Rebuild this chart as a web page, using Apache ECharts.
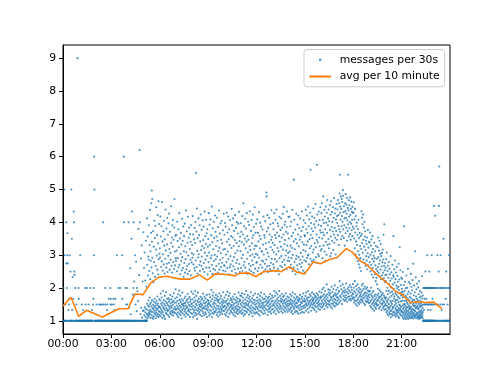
<!DOCTYPE html>
<html>
<head>
<meta charset="utf-8">
<script src="https://cdn.jsdelivr.net/npm/echarts@6/dist/echarts.min.js"></script>
<style>html,body{margin:0;padding:0;background:#fff}#c{width:500px;height:375px}</style>
</head>
<body>
<div id="c"></div>
<script>
// messages per 30s, grouped by hour of day (readings evenly spaced inside each hour)
const h00 = [1.5,1,2,1,1,5,3,1,1,1.5,1,1,4,2.75,1,2,3,3.67,2.75,1,1.33,1,1.67,1.5,1,3,1,1,2.5,1,1,5,1,3.5,1.33,1,2.33,1,1.67,1,4.33,4,2.5,2.4,1,1,2,1,1,1,1.5,1,1,1,9,1,1,1,2,1.67];
const h01 = [1,1,1,1,3,1,1,1,1,1,1.5,1,1,1,1,1.33,1,1,1,1,1,1,1,2,1.5,1,1,1,1,2,1,1,1,1,1,1.5,1,1,1,1,1,2,1,1,1,1,1,1,1.33,1,1,1,1.5,1.67,2,3,6,5,1,1];
const h02 = [1,1,1,1,1,1.5,1,1,1,1,1,1,1,1,1,1.5,1,1,1,1.5,1,1,1,1,1,1.5,1,1,1,4,1,1.5,1,1,1,1,1,2,1.5,1,1,1,1,1,1.33,1.5,1,1,1,1,1.67,1,1,1,1,1,2,1.5,1.67,1];
const h03 = [1,1,1.5,1,1,1,1,1,1.67,1.5,1,1,1.33,1,1,1.67,1,1,1,1,1,3,1,1,1,1,1,2,1,1,1,1,1,2,1,1,1,1,1,1,3,1.67,1,1,1,1,6,4,1,1,1,1,2,1,1,1,1.5,1,1.5,2];
const h04 = [1,1,1,1,4,1,1.4,1,1,1,2.6,1,1.2,1,1,3.5,1,4.33,1,1,1.8,1,2,4,1,2.2,1,1,3,1,1.5,1,2.8,1,1.3,2,1,1.9,1,1.6,1,3.8,1,2.4,1,6.2,4,1,1.2,1,2.9,1.4,1,3.3,1.1,1,2.2,1.3,1,3.7];
const h05 = [1,1.32,1,2.61,1,1.17,1,3.08,1,1.41,1,2.23,1,1.26,1,1.12,1,3.44,1,1.36,1,2.04,1,1.21,1,4.12,
1.52,2.71,1.07,1.33,3.57,1.19,2.38,1.47,1.13,2.96,1.62,2.87,1.24,3.91,1.43,1.16,2.52,1.29,3.31,1.71,1.22,4.38,1.51,2.27,1.34,3.12,1.09,2.83,1.56,3.68,1.28,4.58,1.44,2.63,1.18,4.97,3.41,1.63,4.71,2.92,
1.11,1.38,2.45,1.27,3.73,1.49,1.06,2.18,1.35,3.26,1.58,1.14,2.79,1.42,4.05,1.23,1.67,3.52,1.31,2.34,1.46,3.89,1.19,1.54,2.67,1.08,3.17,1.39,4.46,1.25,1.61,2.99,1.33,1.15,3.61,1.48,2.56,1.74,4.22,1.37,
1.21,3.36,1.53,2.41,1.12,4.64,1.44,2.88,1.29,3.95,1.66,1.18,3.04,1.41];
const h06 = [1.43,3.21,1.27,2.93,1.62,4.18,1.14,1.83,3.57,1.36,2.64,1.52,1.22,3.88,1.71,2.81,1.31,4.62,1.47,1.09,
3.42,1.56,2.53,1.26,3.03,1.91,1.41,3.73,1.18,2.72,1.63,4.04,1.37,1.13,3.29,1.51,2.44,1.76,3.48,1.32,
1.06,2.89,1.46,4.39,1.59,3.14,1.24,1.87,2.62,1.39,3.81,1.21,2.74,1.54,3.33,1.34,4.13,1.67,2.49,1.29,
1.48,3.62,1.17,2.98,1.69,3.97,1.33,1.58,2.77,1.44,4.27,1.12,3.19,1.64,2.56,1.38,3.71,1.23,1.79,3.07,
1.53,2.86,1.28,4.49,1.45,3.38,1.19,1.66,2.68,1.41,3.54,1.57,2.47,1.31,3.91,1.74,1.25,3.26,1.49,4.07,
1.16,2.79,1.61,3.47,1.35,1.84,2.58,1.27,3.84,1.55,4.71,1.42,3.11,1.24,2.69,1.68,3.59,1.37,1.96,2.91];
const h07 = [1.34,2.83,1.56,3.62,1.21,1.47,3.14,1.72,2.51,1.37,4.02,1.16,1.61,3.43,1.26,2.91,1.81,1.42,3.79,1.11,
2.63,1.52,3.24,1.36,1.92,4.28,1.22,2.71,1.63,1.46,3.51,1.31,2.42,1.77,3.04,1.17,1.57,3.68,1.41,2.82,
1.27,3.32,1.66,1.07,2.54,1.51,4.11,1.33,2.94,1.86,1.23,3.44,1.48,2.61,1.62,3.87,1.38,2.34,1.53,3.12,
1.44,3.58,1.19,2.76,1.69,1.29,3.96,1.54,2.47,1.35,3.27,1.74,1.13,2.88,1.47,4.36,1.25,3.09,1.59,2.57,
1.39,3.73,1.64,1.21,2.67,1.43,3.38,1.82,2.43,1.31,4.17,1.55,2.99,1.18,1.68,3.53,1.36,2.73,1.49,3.84,
1.28,2.52,1.73,3.19,1.45,1.12,3.64,1.58,2.86,1.34,3.41,1.65,2.39,1.24,3.92,1.51,1.89,2.78,1.42,3.06];
const h08 = [1.52,3.31,1.21,2.92,1.66,4.19,1.36,1.11,3.63,1.82,2.72,1.46,3.02,1.26,1.57,3.48,1.32,2.61,1.71,3.83,
1.16,2.53,1.41,3.37,1.91,1.62,4.01,1.24,2.84,1.51,5.5,1.34,1.76,3.72,1.19,2.64,1.47,4.42,1.06,3.13,
1.61,2.44,1.31,3.52,1.86,1.39,2.93,1.56,4.12,1.22,3.03,1.67,1.35,3.61,1.49,2.71,1.27,3.91,1.44,2.52,
1.58,3.42,1.18,2.81,1.73,4.24,1.33,1.52,3.16,1.42,2.67,1.64,3.77,1.14,2.96,1.48,3.28,1.69,1.29,4.06,
1.37,2.58,1.83,3.46,1.23,1.55,3.87,1.41,2.76,1.62,3.22,1.17,2.49,1.74,4.33,1.38,3.07,1.53,1.26,3.58,
1.45,2.87,1.68,3.34,1.21,4.08,1.57,2.62,1.36,3.67,1.79,1.12,2.98,1.47,3.79,1.32,2.41,1.63,3.26,1.51];
const h09 = [1.41,3.49,1.61,2.79,1.26,4.28,1.54,3.08,1.16,2.62,1.81,3.93,1.34,1.49,3.31,1.72,2.51,1.21,4.09,1.46,
2.91,1.59,3.61,1.31,1.94,2.99,1.42,4.48,1.11,2.71,1.66,3.39,1.24,2.43,1.77,3.82,1.51,1.36,3.18,1.86,
2.58,1.22,4.02,1.56,2.82,1.44,3.52,1.29,1.71,3.01,1.62,4.21,1.27,2.54,1.52,3.71,1.39,2.88,1.79,3.28,
1.33,2.67,1.68,3.57,1.18,4.14,1.47,2.96,1.63,1.25,3.44,1.74,2.47,1.38,3.86,1.57,1.13,3.12,1.45,2.74,
1.64,4.36,1.28,3.23,1.83,2.56,1.35,3.66,1.53,1.19,2.86,1.69,3.97,1.43,3.06,1.26,2.64,1.76,3.47,1.37,
1.58,4.04,1.32,2.77,1.48,3.36,1.21,1.65,2.92,1.54,3.76,1.41,2.53,1.87,3.17,1.3,4.26,1.6,2.69,1.44];
const h10 = [1.31,3.62,1.71,2.68,1.46,3.98,1.21,3.19,1.56,2.51,1.36,3.87,1.79,1.16,3.02,1.61,2.79,1.41,4.29,1.26,
3.41,1.51,2.61,1.89,3.69,1.32,1.66,3.11,1.47,4.18,1.12,2.88,1.54,3.49,1.76,2.42,1.37,3.79,1.52,1.22,
3.31,1.84,2.63,1.42,4.07,1.62,2.97,1.31,2.72,1.69,3.58,1.27,1.49,3.22,1.44,4.41,1.64,2.52,1.36,3.91,
1.57,2.83,1.23,3.54,1.74,1.39,4.12,1.48,2.66,1.18,3.28,1.67,2.94,1.33,3.74,1.53,1.27,2.57,1.81,3.46,
1.42,4.22,1.14,3.06,1.63,2.46,1.38,3.83,1.55,1.24,2.76,1.72,3.37,1.46,4.01,1.29,2.86,1.59,3.14,1.35,
1.68,3.66,1.21,2.59,1.51,3.96,1.43,1.86,3.27,1.34,4.32,1.58,2.73,1.26,3.43,1.65,2.49,1.4,3.56,1.77];
const h11 = [1.61,3.12,1.29,3.98,1.51,2.61,1.76,3.71,1.22,2.91,1.46,3.39,1.84,1.34,4.19,1.56,2.52,1.24,3.63,1.71,
3.01,1.41,4.58,1.62,2.69,1.16,3.32,1.52,3.88,1.31,1.81,2.79,1.44,3.51,1.21,4.11,1.66,2.62,1.39,3.21,
1.54,3.81,1.29,1.91,2.48,1.49,3.42,1.72,4.28,1.26,2.89,1.61,3.58,1.36,2.43,1.79,3.08,1.46,4.02,1.51,
1.33,3.47,1.68,2.74,1.19,3.92,1.57,2.56,1.42,3.27,1.74,4.34,1.28,2.98,1.63,3.16,1.38,2.67,1.87,3.74,
1.47,2.51,1.23,4.07,1.58,3.36,1.32,2.84,1.69,3.53,1.14,3.02,1.53,4.24,1.41,2.71,1.77,3.61,1.27,2.46,
1.64,3.86,1.37,3.19,1.56,2.94,1.22,4.46,1.49,3.29,1.83,2.59,1.35,3.68,1.62,3.04,1.43,3.96,1.25,2.77];
const h12 = [1.52,3.28,1.26,2.79,1.71,4.09,1.41,3.01,1.61,2.52,1.36,3.68,1.81,1.21,3.42,1.56,2.61,1.46,4.31,1.31,
2.92,1.66,3.59,1.51,1.16,3.21,1.76,3.99,1.41,2.71,1.61,3.49,1.31,2.43,1.86,3.87,1.46,3.12,1.56,2.84,
1.26,3.11,1.71,2.62,1.41,3.78,1.51,1.36,3.32,1.66,2.81,1.21,4.18,1.56,3.02,1.46,2.51,1.81,3.61,1.31,
1.42,3.54,1.67,2.74,1.23,4.03,1.58,2.57,1.37,3.36,1.74,3.18,1.48,2.87,4.91,4.79,1.62,3.72,1.33,2.66,
1.54,4.22,1.18,3.07,1.69,2.49,1.44,3.83,1.57,1.27,2.96,1.73,3.39,1.35,4.14,1.63,2.68,1.49,3.63,1.39,
1.82,2.58,1.28,3.94,1.53,3.24,1.43,2.77,1.68,3.47,1.22,4.37,1.59,2.89,1.34,3.56,1.77,2.53,1.47,3.16];
const h13 = [1.61,3.38,1.36,3.98,1.71,2.72,1.51,3.79,1.26,3.09,1.46,2.62,1.91,4.28,1.56,3.31,1.31,2.88,1.76,3.61,
1.41,4.08,1.61,2.51,1.21,3.52,1.86,3.02,1.51,4.39,1.36,2.81,1.66,3.69,1.46,1.81,3.22,1.56,3.97,1.31,
2.58,1.71,3.89,1.41,3.12,1.61,2.42,1.26,3.58,1.91,4.17,1.51,2.91,1.36,3.41,1.76,2.68,1.46,3.77,1.61,
1.43,3.26,1.68,4.12,1.29,2.97,1.57,3.54,1.82,2.64,1.38,3.84,1.64,2.79,1.24,4.26,1.53,3.17,1.73,2.54,
1.47,3.63,1.34,4.47,1.59,2.86,1.77,3.34,1.42,3.93,1.63,2.71,1.28,3.46,1.54,4.02,1.39,2.99,1.84,3.71,
1.49,3.14,1.67,2.57,1.33,3.86,1.58,4.33,1.44,3.29,1.74,2.83,1.27,3.66,1.52,3.07,1.62,4.16,1.37,2.93];
const h14 = [1.46,3.51,1.71,2.82,1.31,4.18,1.61,3.11,1.51,2.61,1.81,3.88,1.36,1.56,3.29,1.66,2.71,1.41,4.02,1.26,
2.91,1.76,3.58,1.51,1.31,3.22,1.61,4.38,1.46,2.51,1.86,3.01,1.21,3.68,1.56,2.62,1.41,3.42,5.3,1.71,
1.36,4.08,1.61,2.79,1.51,3.18,1.26,1.81,3.78,1.46,2.42,1.66,3.49,1.31,2.88,1.56,4.27,1.41,2.98,1.71,
1.53,3.36,1.28,2.69,1.74,3.93,1.44,2.57,1.63,3.63,1.22,4.21,1.58,2.94,1.38,3.27,1.69,2.49,1.47,3.82,
1.64,2.73,1.33,3.47,1.79,4.12,1.49,2.86,1.24,3.56,1.57,3.07,1.42,2.64,1.68,3.74,1.35,4.34,1.54,2.77,
1.73,3.39,1.27,2.96,1.62,3.86,1.45,2.53,1.83,3.16,1.39,4.06,1.59,3.32,1.25,2.84,1.67,3.61,1.48,2.47];
const h15 = [1.61,3.58,1.41,3.98,1.76,3.12,1.56,4.38,1.31,2.81,1.86,3.79,1.51,3.31,1.66,4.21,1.46,2.92,1.71,3.68,
1.36,3.42,1.61,2.99,1.91,4.48,1.51,3.02,1.26,3.88,1.71,2.72,1.56,4.09,1.41,3.49,1.81,3.21,1.61,4.29,
1.46,2.89,5.6,1.76,3.62,1.51,3.98,1.31,3.28,1.66,3.81,1.56,2.82,1.86,4.18,1.41,3.52,1.71,3.08,1.61,
1.49,3.73,1.64,4.42,1.38,3.17,1.82,2.86,1.54,3.94,1.69,4.13,1.33,3.36,1.77,2.78,1.47,3.84,1.58,4.56,
1.42,3.24,1.73,2.94,1.63,4.04,1.28,3.63,1.84,3.46,5.75,1.53,2.76,1.67,4.24,1.44,3.39,1.79,3.03,1.57,
1.37,3.92,1.72,4.33,1.48,2.97,1.62,3.54,1.89,4.07,1.52,3.27,1.34,3.76,1.68,4.46,1.43,3.14,1.74,3.69];
const h16 = [1.71,3.89,1.51,4.28,1.86,3.19,1.61,4.58,1.41,3.51,1.96,2.91,1.56,4.08,1.76,3.69,1.46,4.79,1.66,3.29,
2.01,3.98,1.51,3.61,1.81,4.38,1.36,3.11,1.71,4.18,1.61,3.79,1.91,2.82,1.56,4.48,1.46,3.41,1.76,3.99,
1.66,3.01,2.11,4.29,1.51,3.68,1.81,4.68,1.41,3.31,1.71,3.91,1.61,4.12,1.96,3.49,1.51,4.39,1.86,3.21,
1.58,4.03,1.78,3.34,1.48,4.52,1.93,3.77,1.63,2.97,1.83,4.23,1.43,3.57,1.73,4.64,1.53,3.06,2.04,3.86,
1.68,4.31,1.38,3.44,1.88,4.01,1.62,3.72,1.52,4.46,1.74,3.16,1.97,4.14,1.47,3.63,1.79,4.74,1.57,3.38,
1.67,3.83,2.08,4.27,1.44,3.53,1.84,4.42,1.64,3.02,1.77,4.09,1.54,3.74,1.94,4.56,1.49,3.47,1.72,4.19];
const h17 = [1.81,3.98,1.61,4.39,2.01,3.61,1.71,4.68,1.51,3.89,1.86,4.22,1.66,3.31,4.58,1.91,3.79,1.56,4.88,2.21,
5.45,4.29,1.76,3.71,4.48,1.61,4.08,2.06,4.79,3.49,1.71,4.41,1.96,3.88,4.71,1.81,4.19,1.51,4.62,3.58,
1.86,4.02,2.11,4.98,1.66,4.81,3.79,1.91,4.31,1.76,3.52,4.49,2.01,3.91,1.61,4.12,3.29,1.86,4.58,1.71,
1.93,4.34,1.63,3.67,4.86,1.78,4.14,2.14,3.84,4.54,1.68,4.26,1.88,3.44,4.74,1.58,4.06,1.98,3.74,4.44,
1.73,3.94,5.45,1.83,4.37,2.03,3.57,4.67,1.64,4.18,1.92,3.82,4.52,1.74,4.01,2.09,3.64,4.76,1.67,4.23,
1.87,3.47,4.41,1.62,3.96,2.02,4.63,1.77,3.76,4.32,1.94,4.08,1.69,3.58,4.47,1.84,3.87,2.12,4.29,1.72];
const h18 = [1.81,4.29,1.66,3.81,2.01,4.61,1.56,3.51,1.91,4.09,1.71,3.21,2.21,4.41,1.61,3.69,1.86,3.02,1.51,4.19,
2.06,3.42,1.76,3.88,1.61,2.92,1.96,3.99,1.46,3.31,1.81,3.62,2.11,2.82,1.66,3.79,1.56,3.12,1.91,4.08,
1.71,2.72,2.01,3.52,1.51,3.01,1.86,3.68,1.61,2.62,1.76,3.28,1.96,2.91,1.56,3.58,1.81,2.51,1.66,3.19,
1.88,4.34,1.73,3.64,2.08,4.14,1.63,3.37,1.93,3.94,1.58,3.07,2.13,4.24,1.78,3.47,1.68,2.87,1.98,3.84,
1.53,3.26,1.83,4.02,1.72,2.77,2.04,3.57,1.48,3.73,1.87,3.16,1.62,2.67,1.77,3.44,1.97,2.97,1.57,3.34,
1.84,2.84,1.69,3.54,2.02,2.57,1.59,3.06,1.74,3.77,1.92,2.69,1.64,3.23,1.79,2.94,1.54,3.41,1.89,2.64];
const h19 = [1.71,3.39,1.56,2.79,1.91,3.69,1.46,3.01,1.81,2.51,1.61,3.29,2.01,2.71,1.41,3.48,1.76,2.41,1.66,3.09,
1.51,2.88,1.86,3.58,1.36,2.61,1.71,3.19,1.56,2.32,1.91,2.98,1.46,2.81,1.61,3.38,1.31,2.49,1.76,2.91,
1.51,2.42,1.66,3.12,1.41,2.69,1.81,2.21,1.56,3.28,1.36,2.58,1.71,2.31,1.51,2.89,1.46,2.11,1.61,2.52,
1.78,3.24,1.63,2.64,1.98,3.54,1.48,2.94,1.83,2.46,1.68,3.14,1.38,2.74,1.73,3.44,1.58,2.36,1.93,2.84,
1.43,3.04,1.74,2.56,1.53,3.34,1.88,2.27,1.64,2.97,1.33,2.66,1.79,3.07,1.49,2.38,1.69,2.78,1.54,3.17,
1.84,2.47,1.39,2.87,1.62,3.62,1.44,2.29,1.77,2.68,1.57,3.94,1.34,2.54,1.72,2.18,1.47,2.76,1.67,2.39];
const h20 = [1.51,2.62,1.36,2.21,1.71,2.88,1.26,1.91,2.41,1.46,1.61,3.08,1.31,2.01,1.56,2.52,1.21,1.81,2.68,1.41,
1.66,2.31,1.16,1.92,2.79,1.36,1.51,2.12,1.26,2.59,1.71,1.41,2.42,1.21,1.86,2.22,1.31,1.61,2.97,1.46,
1.11,2.02,1.56,2.48,1.31,1.76,2.29,1.21,1.51,1.89,1.36,2.71,1.16,1.61,2.11,1.41,1.81,2.39,1.26,3.58,
1.43,2.34,1.28,1.97,1.68,2.57,1.18,1.74,2.17,1.48,1.58,2.84,1.23,1.84,1.38,2.27,1.13,1.63,2.47,1.33,
1.53,2.07,1.19,1.79,2.64,1.29,1.44,1.99,1.24,2.37,1.64,1.34,2.19,1.14,1.73,2.04,1.27,1.57,2.74,1.39,
1.09,1.94,1.49,2.26,1.32,1.69,3.24,1.22,1.47,1.83,1.35,2.54,1.17,1.59,2.09,1.42,1.77,2.32,1.28,1.87];
const h21 = [1.31,1.98,1.16,1.61,2.28,1.26,1.46,1.89,1.11,1.71,2.49,1.36,1.21,1.81,1.51,1.06,2.09,1.41,1.26,3.88,
1.61,1.16,1.91,1.31,1.51,2.19,1.11,1.46,1.76,1.21,1.99,1.36,1.06,1.61,1.26,2.38,1.41,1.16,1.71,1.31,
1.56,2.01,1.11,1.41,1.81,1.21,1.51,2.58,1.31,1.06,1.66,1.26,1.89,1.16,1.46,2.18,1.36,1.11,1.61,1.41,
1.23,1.73,1.38,2.13,1.18,1.53,1.08,1.83,1.28,2.43,1.43,1.13,1.68,1.33,2.04,1.22,1.58,1.09,1.93,1.37,
1.27,2.24,1.14,1.63,1.48,1.19,2.74,1.34,1.54,1.07,1.78,1.24,1.44,2.08,1.17,1.64,1.32,1.12,1.87,1.47,
1.29,3.12,1.15,1.57,1.39,2.33,1.21,1.74,1.08,1.52,1.42,1.96,1.18,1.67,1.25,2.14,1.38,1.13,1.59,1.45];
const h22 = [1.21,1.62,1.11,2.02,1.36,1.06,1.81,1.26,1.51,1.16,2.21,1.41,1.12,1.71,1.31,1.07,1.91,1.22,1.46,1.61,
1.18,1.53,1.09,1.74,1.28,1.44,1.14,1.86,1.33,1.57,1.24,2.36,1.13,1.48,1.68,1.19,1.39,1.08,1.77,1.27,
1,2,1,1.5,1,1,1.33,1,2,1,1,1.67,1,1.5,2,1,1,2.5,1,1.5,1,2,1,1,1.67,1,1,2,1.5,1,3,1,2,1,1,1.5,1,1.33,2,1,
1,1.5,1,2,1,1,2.5,1,2,1,1.5,1,1,2,1,1.33,1,2,1,1.5,1,2,1,1,3,1,1.5,1,2,1,1.67,1,2,1,1.5,1,1,2,1,2];
const h23 = [4.5,1,2,1.5,1,4.2,1,2,1,1.5,1,2,1,3,1,1.5,2,1,2.5,4.5,5.7,1,2,1,1.5,3,1,2,1,1.33,2,1,1.5,1,2,1,3.5,1,1.5,2,1,1,2,1,1.67,1,2.5,1,1,2,1,1.5,1,2,1,1,3,1,2,1];

// avg per 10 minute: vertices (minute of day, value)
const avgMinutes = [0,30,58,88,146,208,242,268,298,326,356,387,437,470,508,537,566,611,640,656,690,718,747,790,812,842,871,899,932,958,992,1020,1054,1075,1107,1132,1150,1175,1207,1237,1262,1293,1315,1348,1380,1393,1411];
const avgValues  = [1.45,1.72,1.14,1.32,1.12,1.37,1.37,1.82,1.8,2.15,2.33,2.36,2.27,2.27,2.4,2.24,2.43,2.41,2.37,2.45,2.46,2.35,2.5,2.53,2.5,2.65,2.48,2.43,2.8,2.74,2.87,2.93,3.2,3.1,2.82,2.7,2.55,2.36,2.15,1.9,1.8,1.55,1.58,1.56,1.57,1.48,1.37];

// ticks
const xTickMinutes = [0,180,360,540,720,900,1080,1260];
const xTickLabels  = ['00:00','03:00','06:00','09:00','12:00','15:00','18:00','21:00'];
const yTickValues  = [1,2,3,4,5,6,7,8,9];

const hours = [h00,h01,h02,h03,h04,h05,h06,h07,h08,h09,h10,h11,h12,h13,h14,h15,h16,h17,h18,h19,h20,h21,h22,h23];
const scatterData = [];
hours.forEach((arr, h) => arr.forEach((v, i) => scatterData.push([h * 60 + i * 60 / arr.length, v])));
const lineData = avgMinutes.map((m, i) => [m, avgValues[i]]);

const FONT = 'DejaVu Sans';
const chart = echarts.init(document.getElementById('c'), null, {renderer: 'canvas'});
chart.setOption({
  animation: false,
  backgroundColor: '#fff',
  textStyle: {fontFamily: FONT},
  grid: {left: 63, right: 50, top: 45, bottom: 41, show: true, borderColor: '#000', borderWidth: 1, backgroundColor: 'transparent'},
  xAxis: {
    type: 'value', min: 0, max: 1440,
    axisLine: {show: true, lineStyle: {color: '#000', width: 1}},
    axisTick: {show: true, length: 4, customValues: xTickMinutes, lineStyle: {color: '#000'}},
    axisLabel: {customValues: xTickMinutes, color: '#000', fontSize: 10.8, fontFamily: FONT, margin: 5,
      formatter: v => { const k = xTickMinutes.indexOf(v); return k >= 0 ? xTickLabels[k] : ''; }},
    splitLine: {show: false}
  },
  yAxis: {
    type: 'value', min: 0.6, max: 9.4,
    axisLine: {show: true, lineStyle: {color: '#000', width: 1}},
    axisTick: {show: true, length: 4, customValues: yTickValues, lineStyle: {color: '#000'}},
    axisLabel: {customValues: yTickValues, color: '#000', fontSize: 10.8, fontFamily: FONT, margin: 7,
      formatter: v => String(v)},
    splitLine: {show: false}
  },
  legend: {
    orient: 'vertical', right: 55.4, top: 49.5,
    padding: [4.3, 5, 4.3, 4.3],
    itemWidth: 21.7, itemHeight: 2.6, itemGap: 4.7,
    backgroundColor: 'rgba(255,255,255,0.8)', borderColor: '#cccccc', borderWidth: 1, borderRadius: 3,
    textStyle: {fontSize: 10.8, fontFamily: FONT, color: '#000', lineHeight: 12, padding: [0, 0, 0, 3.7]},
    data: ['messages per 30s', 'avg per 10 minute']
  },
  series: [
    {name: 'messages per 30s', type: 'scatter', data: scatterData, symbol: 'circle', symbolSize: 2.1,
     itemStyle: {color: '#1f77b4'}, z: 2},
    {name: 'avg per 10 minute', type: 'line', data: lineData, symbol: 'none', showSymbol: false,
     lineStyle: {color: '#ff7f0e', width: 1.6}, itemStyle: {color: '#ff7f0e'}, z: 3}
  ]
});
</script>
</body>
</html>
